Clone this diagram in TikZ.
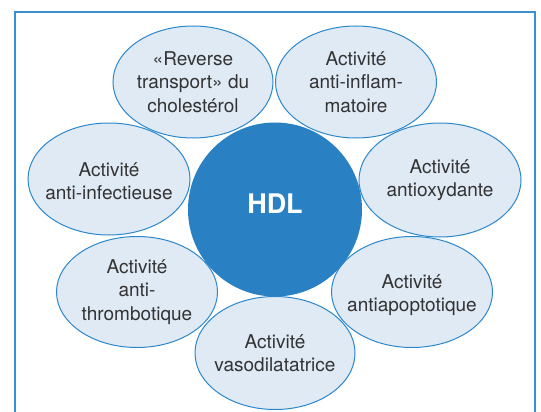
\documentclass[tikz,border=0pt]{standalone}
\usepackage{fontspec}
\setmainfont{TeX Gyre Heros}
\usetikzlibrary{shapes.geometric}
\definecolor{hdlblue}{HTML}{2980C3}
\definecolor{edgeblue}{HTML}{2B88CC}
\definecolor{bubblefill}{HTML}{E0EAF5}
\definecolor{framec}{HTML}{3A8FD0}
\definecolor{ink}{HTML}{333333}
\begin{document}
\begin{tikzpicture}[x=1pt,y=-1pt,
  bubble/.style={ellipse, draw=edgeblue, fill=bubblefill, line width=1pt,
    inner sep=0pt},
  btext/.style={align=center, text=ink, inner sep=0pt,
    font=\fontsize{19}{23.5}\selectfont},
  core/.style={circle, fill=hdlblue, minimum size=174pt, inner sep=0pt}]
  \useasboundingbox (0,0) rectangle (541,412);
  % open frame (no bottom edge)
  \draw[framec, line width=1.5pt] (15,413) -- (15,12) -- (535,12) -- (535,413);
  % surrounding activity bubbles
  \node[bubble, minimum width=160pt, minimum height=112pt] (rev) at (193,82) {};
  \node[bubble, minimum width=161pt, minimum height=112pt] (infl) at (356,82) {};
  \node[bubble, minimum width=162pt, minimum height=112pt] (infe) at (109,179) {};
  \node[bubble, minimum width=162pt, minimum height=114pt] (oxy) at (440,180) {};
  \node[bubble, minimum width=161pt, minimum height=111pt] (thr) at (137,292) {};
  \node[bubble, minimum width=161pt, minimum height=111pt] (apo) at (412,292) {};
  \node[bubble, minimum width=160pt, minimum height=113pt] (vaso) at (275,353) {};
  % labels
  \node[btext] (rev-t) at (rev) {«Reverse\\transport» du\\cholestérol};
  \node[btext] (infl-t) at (infl) {Activité\\anti-inflam-\\matoire};
  \node[btext] (infe-t) at ([yshift=-2pt]infe) {Activité\\anti-infectieuse};
  \node[btext] (oxy-t) at (oxy) {Activité\\antioxydante};
  \node[btext] (thr-t) at (thr) {Activité\\anti-\\thrombotique};
  \node[btext] (apo-t) at ([yshift=-3pt]apo) {Activité\\antiapoptotique};
  \node[btext] (vaso-t) at (vaso) {Activité\\vasodilatatrice};
  % central HDL disc
  \node[core] (hdl) at (275,209.5) {};
  \node[text=white, font=\fontsize{27}{30}\selectfont\bfseries] (hdl-t) at (275,204) {HDL};
\end{tikzpicture}
\end{document}
